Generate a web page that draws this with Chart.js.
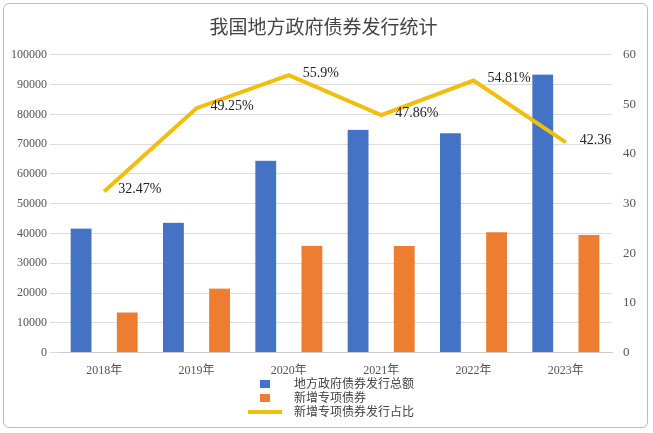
<!DOCTYPE html>
<html><head><meta charset="utf-8">
<script src="https://cdn.jsdelivr.net/npm/chart.js@4"></script>
<style>
body{margin:0;background:#fff;font-family:"Liberation Serif","Noto Sans CJK SC",serif;}
#wrap{position:absolute;left:3px;top:3px;width:645px;height:425px;border:1px solid #bbb;border-radius:6px;box-sizing:border-box;}
#legend{position:absolute;left:244px;top:373px;font-size:12px;color:#444;line-height:14px;}
.it{display:flex;align-items:center;}
.sw{display:inline-block;}
</style></head><body>
<div id="wrap"><canvas id="c" width="643" height="423"></canvas>
<div id="legend">
<div class="it"><span class="sw" style="height:8px;background:#4472C4;width:10px;margin:0 24px 0 12px"></span>地方政府债券发行总额</div>
<div class="it"><span class="sw" style="height:8px;background:#ED7D31;width:10px;margin:0 24px 0 12px"></span>新增专项债券</div>
<div class="it"><span class="sw" style="height:4px;background:#F2BE0C;width:34px;margin:0 12px 0 0"></span>新增专项债券发行占比</div>
</div></div>
<script>
const categories=["2018年","2019年","2020年","2021年","2022年","2023年"];
const totalIssue=[41652,43624,64438,74826,73676,93372];
const newSpecial=[13500,21487,35844,35800,40384,39500];
const ratio=[32.47,49.25,55.9,47.86,54.81,42.36];
const ratioLabels=["32.47%","49.25%","55.9%","47.86%","54.81%","42.36"];
const F="'Liberation Serif','Noto Sans CJK SC',serif";
const lbl={id:'lbl',afterDatasetsDraw(ch){const m=ch.getDatasetMeta(0),c=ch.ctx;c.save();c.font="14px "+F;c.fillStyle="#222";c.textBaseline="middle";
m.data.forEach((p,i)=>c.fillText(ratioLabels[i],p.x+14,p.y-2));c.restore();}};
const bw={left:13,right:13,top:0,bottom:0};
new Chart(document.getElementById('c'),{
type:'bar',
data:{labels:categories,datasets:[
{type:'line',label:'新增专项债券发行占比',data:ratio,yAxisID:'y1',borderColor:'#F2BE0C',borderWidth:4,pointRadius:0,tension:0,order:0},
{label:'地方政府债券发行总额',data:totalIssue,backgroundColor:'#4472C4',borderColor:'rgba(0,0,0,0)',borderWidth:bw,borderSkipped:false,order:1},
{label:'新增专项债券',data:newSpecial,backgroundColor:'#ED7D31',borderColor:'rgba(0,0,0,0)',borderWidth:bw,borderSkipped:false,order:1}
]},
options:{responsive:false,animation:false,
layout:{padding:{left:4,right:8,top:0,bottom:46}},
plugins:{legend:{display:false},tooltip:{enabled:false},
title:{display:true,text:'我国地方政府债券发行统计',font:{size:19,family:F,weight:'normal'},color:'#444',padding:{top:14,bottom:14}}},
datasets:{bar:{categoryPercentage:1,barPercentage:1}},
scales:{
x:{grid:{display:false},border:{color:'#ccc'},ticks:{color:'#555',font:{size:12,family:F}}},
y:{min:0,max:100000,ticks:{stepSize:10000,color:'#555',font:{size:12,family:F},callback:v=>String(v)},grid:{color:'#ddd'},border:{display:false}},
y1:{position:'right',min:0,max:60,ticks:{stepSize:10,color:'#555',font:{size:13,family:F}},grid:{display:false},border:{display:false}}
}},
plugins:[lbl]});
</script></body></html>
